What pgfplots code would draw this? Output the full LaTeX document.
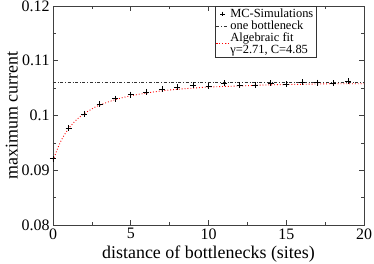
\documentclass[border=0pt]{standalone}
\usepackage{pgfplots}
\pgfplotsset{compat=1.18}
\usepackage{fontspec}
\setmainfont{Liberation Serif}
\begin{document}
\begin{tikzpicture}
\begin{axis}[
  scale only axis,
  width=311bp, height=219bp,
  xmin=0, xmax=20, ymin=0.08, ymax=0.12,
  xtick={0,5,10,15,20},
  ytick={0.08,0.09,0.1,0.11,0.12},
  yticklabels={0.08,0.09,0.1,0.11,0.12},
  minor x tick num=1, minor y tick num=1,
  tick align=inside,
  major tick length=5bp, minor tick length=3bp,
  axis line style={black!75, line width=0.9pt},
  every tick/.style={black!75, line width=0.6pt},
  /pgf/number format/assume math mode=true,
  tick label style={font=\fontsize{16}{16}\selectfont},
  xlabel={distance of bottlenecks (sites)},
  ylabel={maximum current},
  label style={font=\fontsize{18}{18}\selectfont},
  xlabel style={yshift=0bp},
  ylabel style={yshift=-3bp},
  legend style={at={(0.683,1)}, anchor=north, draw=black!80, line width=0.5pt,
    font=\fontsize{12.5}{11.5}\selectfont, inner sep=1pt, row sep=-1pt,
    nodes={align=left, inner sep=1.5pt}},
  legend cell align=left,
  legend image post style={scale=0.7},
  clip=true,
]
\addplot[only marks, mark=+, mark size=3bp, black, line width=0.6pt] coordinates {
(0,0.0921) (1,0.0977) (2,0.1003) (3,0.1021) (4,0.1031) (5,0.1038) (6,0.1043)
(7,0.1048) (8,0.1052) (9,0.1055) (10,0.1054) (11,0.1059) (12,0.1055) (13,0.1056)
(14,0.1059) (15,0.1057) (16,0.1061) (17,0.1060) (18,0.1059) (19,0.1063)
};
\addlegendentry{MC-Simulations}
\addplot[black!80, dash dot, line width=0.8pt] coordinates {(0,0.1061) (20,0.1061)};
\addlegendentry{one bottleneck}
\addplot[red, dotted, line width=0.9pt, smooth] coordinates {
(0,0.0918) (0.5,0.0953) (1,0.0976) (1.5,0.0992) (2,0.1003) (2.5,0.1012) (3,0.1019)
(4,0.1029) (5,0.1036) (6,0.1041) (7,0.1045) (8,0.1048) (9,0.1050) (10,0.1052)
(12,0.1054) (14,0.1056) (16,0.1057) (18,0.1058) (20,0.1058)
};
\addlegendentry{Algebraic fit\\γ=2.71, C=4.85}
\end{axis}
\pgfresetboundingbox
\useasboundingbox ([shift={(-53bp,-39bp)}]current axis.south west) rectangle ([shift={(10bp,6bp)}]current axis.north east);
\end{tikzpicture}
\end{document}
